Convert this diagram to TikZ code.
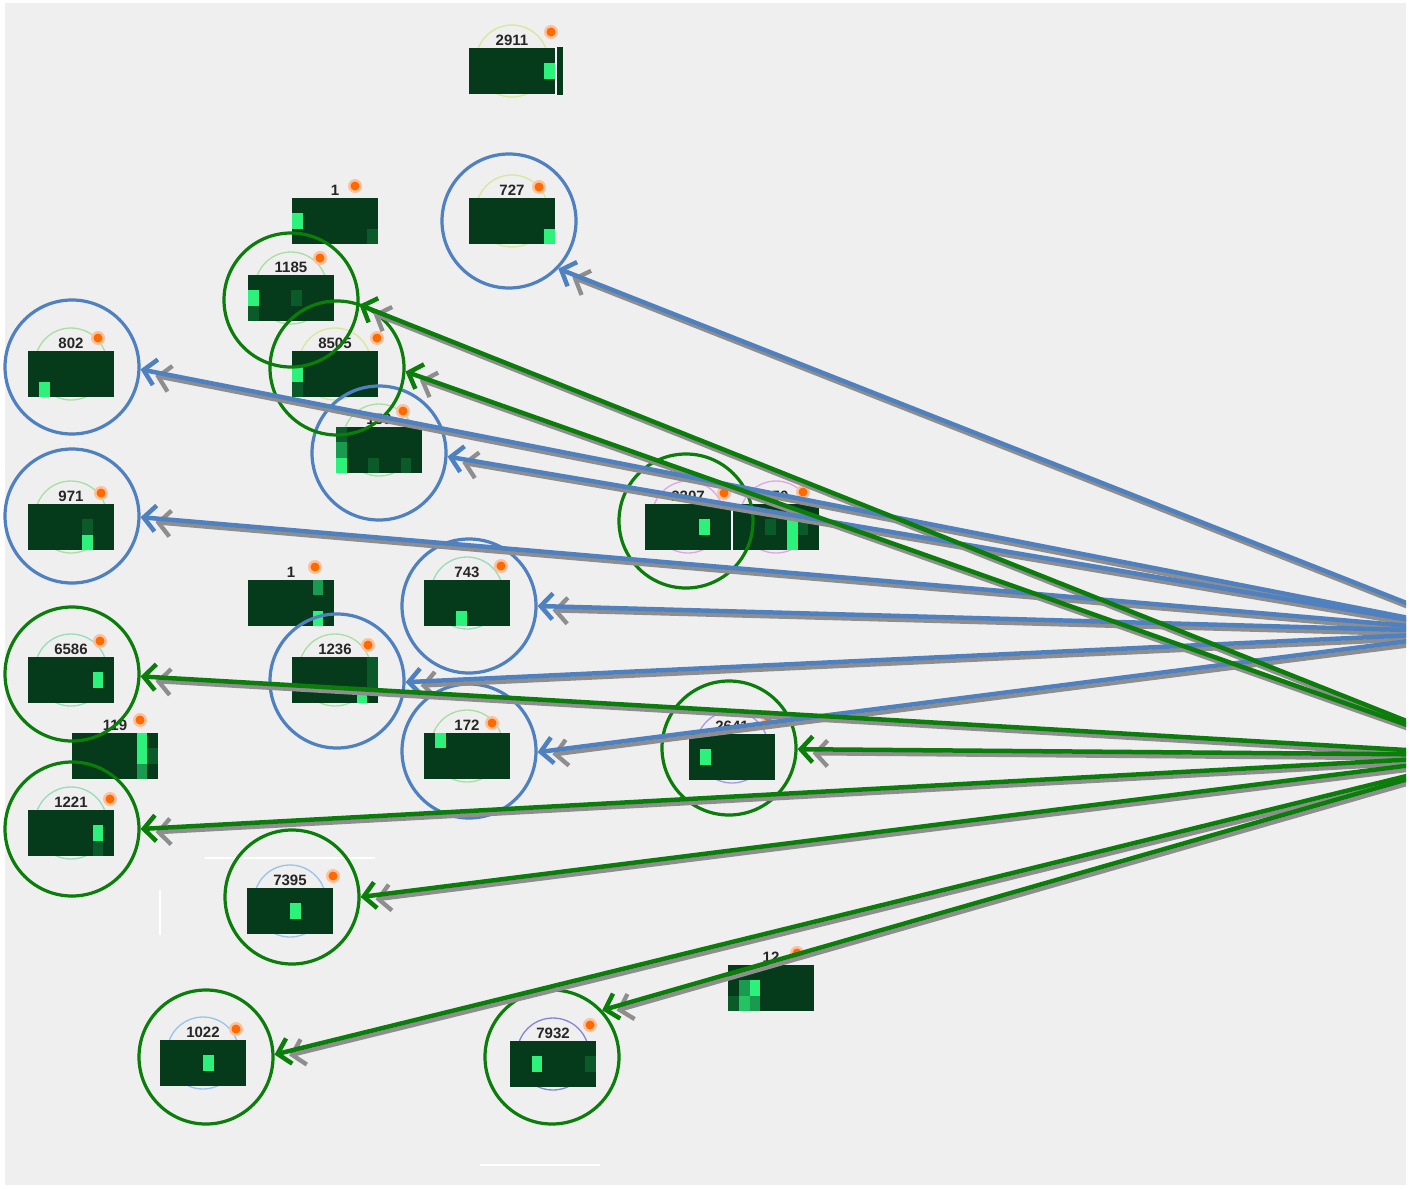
\documentclass[tikz,border=0pt]{standalone}
\usepackage{fontspec}
\setmainfont{Liberation Sans}
\usetikzlibrary{arrows.meta,calc}

\definecolor{bgc}{HTML}{EFEFEF}
\definecolor{edgeblue}{HTML}{4F80C0}
\definecolor{edgegreen}{HTML}{0A7D0A}
\definecolor{edgegray}{HTML}{8E8E8E}
\definecolor{tiledark}{HTML}{053A1B}
\definecolor{cellhi}{HTML}{2CF27C}
\definecolor{cellmid}{HTML}{1A9A4E}
\definecolor{celllow}{HTML}{0B5A2A}
\definecolor{dotorange}{HTML}{FF6A00}
\definecolor{dothalo}{HTML}{FFC09A}
\definecolor{ringlime}{HTML}{D6E89C}
\definecolor{ringgreen}{HTML}{A8DFA0}
\definecolor{ringpink}{HTML}{E3A4E6}
\definecolor{ringviolet}{HTML}{A898E6}
\definecolor{ringblue}{HTML}{98C4EA}
\definecolor{ringteal}{HTML}{98DCB8}
\definecolor{ringindigo}{HTML}{8484D8}

\tikzset{
  tilebox/.style={fill=tiledark, draw=none, minimum width=86pt, minimum height=46pt, inner sep=0pt, outer sep=0pt},
  tilelabel/.style={anchor=base, inner sep=0pt, text=black!85, font=\fontsize{15}{15}\selectfont\bfseries},
  ringarc/.style={line width=1.3pt},
  bluering/.style={circle, draw=edgeblue, line width=3.2pt, minimum size=134pt, inner sep=0pt},
  greenring/.style={circle, draw=edgegreen, line width=3.2pt, minimum size=134pt, inner sep=0pt},
  tipstyle/.style={-{Straight Barb[length=12pt,width=26pt]}},
  shadowedge/.style={tipstyle, draw=edgegray, line width=4.3pt, shorten >=13pt,
    transform canvas={shift={(2pt,-4pt)}}},
  blueedge/.style={tipstyle, draw=edgeblue, line width=4.5pt},
  greenedge/.style={tipstyle, draw=edgegreen, line width=4.5pt},
}

% heat tile: name, cx, cy, label, ring colour, dot x, dot y
\newcommand\heattile[7]{%
  \draw[ringarc, draw=#5] (#2,#3-10) circle[radius=36];
  \node[tilebox] (t#1) at (#2,#3) {};
  \node[tilelabel] (l#1) at (#2,#3-25.5) {#4};
  \fill[dothalo] (#6,#7) circle[radius=7];
  \fill[dotorange] (#6,#7) circle[radius=4.5];
}
% one cell of a tile: tile name, column, row, colour
\newcommand\hcell[4]{%
  \fill[#4] ($(t#1.north west)+(#2*10.75,#3*15.33)$) rectangle +(10.75,15.33);
}

\begin{document}
\begin{tikzpicture}[x=1pt,y=-1pt]
\useasboundingbox (0,0) rectangle (1410,1188);
\fill[white] (0,0) rectangle (1410,1188);
\fill[bgc] (5,3) rectangle (1406,1185);

% faint screen seams
\draw[white, line width=1.5pt] (205,858) -- (375,858);
\draw[white, line width=1.5pt] (160,890) -- (160,935);
\draw[white, line width=1.5pt] (480,1165) -- (600,1165);

% ---- heat tiles ----
\heattile{a}{512}{71}{2911}{ringlime}{551}{32}
\fill[tiledark] (557,47) rectangle (563,95);
\draw[white, line width=1.5pt] (556,47) -- (556,95);
\hcell{a}{7}{1}{cellhi}

\heattile{b}{335}{221}{1}{none}{355}{186}
\hcell{b}{0}{1}{cellhi}
\hcell{b}{7}{2}{celllow}

\heattile{c}{512}{221}{727}{ringlime}{539}{187}
\hcell{c}{7}{2}{cellhi}

\heattile{d}{291}{298}{1185}{ringgreen}{320}{258}
\hcell{d}{0}{1}{cellhi}
\hcell{d}{0}{2}{celllow}
\hcell{d}{4}{1}{celllow}

\heattile{e}{335}{374}{8505}{ringlime}{377}{338}
\hcell{e}{0}{1}{cellhi}
\hcell{e}{0}{2}{celllow}

\heattile{f}{71}{374}{802}{ringgreen}{98}{338}
\hcell{f}{1}{2}{cellhi}

\heattile{g}{379}{450}{156}{ringgreen}{403}{411}
\hcell{g}{0}{0}{celllow}
\hcell{g}{0}{1}{cellmid}
\hcell{g}{0}{2}{cellhi}
\hcell{g}{3}{2}{celllow}
\hcell{g}{6}{2}{celllow}

\heattile{h}{688}{527}{2207}{ringpink}{724}{493}
\hcell{h}{5}{1}{cellhi}

\heattile{i}{776}{527}{250}{ringpink}{803}{492}
\draw[white, line width=1.5pt] (732,504) -- (732,550);
\hcell{i}{5}{1}{cellhi}
\hcell{i}{5}{2}{cellhi}
\hcell{i}{6}{1}{celllow}
\hcell{i}{3}{1}{celllow}

\heattile{j}{71}{527}{971}{ringgreen}{101}{493}
\hcell{j}{5}{2}{cellhi}
\hcell{j}{5}{1}{celllow}

\heattile{k}{291}{603}{1}{none}{315}{567}
\hcell{k}{6}{0}{cellmid}
\hcell{k}{6}{2}{cellhi}

\heattile{l}{467}{603}{743}{ringteal}{501}{566}
\hcell{l}{3}{2}{cellhi}

\heattile{m}{71}{680}{6586}{ringteal}{100}{641}
\hcell{m}{6}{1}{cellhi}

\heattile{n}{335}{680}{1236}{ringgreen}{368}{645}
\hcell{n}{6}{2}{cellhi}
\hcell{n}{7}{0}{celllow}
\hcell{n}{7}{1}{celllow}

\heattile{o}{115}{756}{119}{none}{140}{720}
\hcell{o}{6}{0}{cellhi}
\hcell{o}{6}{1}{cellhi}
\hcell{o}{6}{2}{cellmid}
\hcell{o}{7}{1}{celllow}

\heattile{p}{467}{756}{172}{ringgreen}{492}{723}
\hcell{p}{1}{0}{cellhi}

\heattile{q}{732}{757}{2641}{ringviolet}{768}{717}
\hcell{q}{1}{1}{cellhi}

\heattile{r}{71}{833}{1221}{ringteal}{110}{799}
\hcell{r}{6}{1}{cellhi}
\hcell{r}{6}{2}{celllow}

\heattile{s}{290}{911}{7395}{ringblue}{333}{876}
\hcell{s}{4}{1}{cellhi}

\heattile{u}{771}{988}{12}{none}{797}{953}
\hcell{u}{2}{1}{cellhi}
\hcell{u}{1}{1}{cellmid}
\hcell{u}{1}{2}{cellhi!80!black}
\hcell{u}{2}{2}{cellmid}
\hcell{u}{0}{2}{celllow}

\heattile{v}{203}{1063}{1022}{ringblue}{236}{1029}
\hcell{v}{4}{1}{cellhi}

\heattile{w}{553}{1064}{7932}{ringindigo}{590}{1025}
\hcell{w}{2}{1}{cellhi}
\hcell{w}{7}{1}{celllow}

% ---- highlight rings ----
\node[bluering] (c727)  at (509,221) {};
\node[bluering] (c802)  at (72,367)  {};
\node[bluering] (c156)  at (379,453) {};
\node[bluering] (c971)  at (72,516)  {};
\node[bluering] (c743)  at (469,606) {};
\node[bluering] (c1236) at (337,681) {};
\node[bluering] (c172)  at (469,751) {};

\node[greenring] (c1185) at (291,300)  {};
\node[greenring] (c8505) at (337,368)  {};
\node[greenring] (c2207) at (686,521)  {};
\node[greenring] (c6586) at (72,674)   {};
\node[greenring] (c2641) at (729,748)  {};
\node[greenring] (c1221) at (72,829)   {};
\node[greenring] (c7395) at (292,897)  {};
\node[greenring] (c1022) at (206,1057) {};
\node[greenring] (c7932) at (552,1057) {};

% ---- connectors from the two hubs beyond the right edge ----
\coordinate (hubB) at (1480,632);
\coordinate (hubG) at (1492,755);
\begin{scope}
\clip (0,0) rectangle (1406,1188);
\foreach \t/\a in {c727/-44,c802/-2,c156/-3,c971/-1,c743/0,c1236/-1,c172/-1}
  \draw[shadowedge] (hubB) -- (\t.\a);
\foreach \t/\a in {c1185/-4,c8505/-3,c6586/-2,c2641/-1,c1221/0,c7395/0,c1022/2,c7932/43}
  \draw[shadowedge] (hubG) -- (\t.\a);
\foreach \t/\a in {c727/-44,c802/-2,c156/-3,c971/-1,c743/0,c1236/-1,c172/-1}
  \draw[blueedge] (hubB) -- (\t.\a);
\foreach \t/\a in {c1185/-4,c8505/-3,c6586/-2,c2641/-1,c1221/0,c7395/0,c1022/2,c7932/43}
  \draw[greenedge] (hubG) -- (\t.\a);
\end{scope}
\end{tikzpicture}
\end{document}
